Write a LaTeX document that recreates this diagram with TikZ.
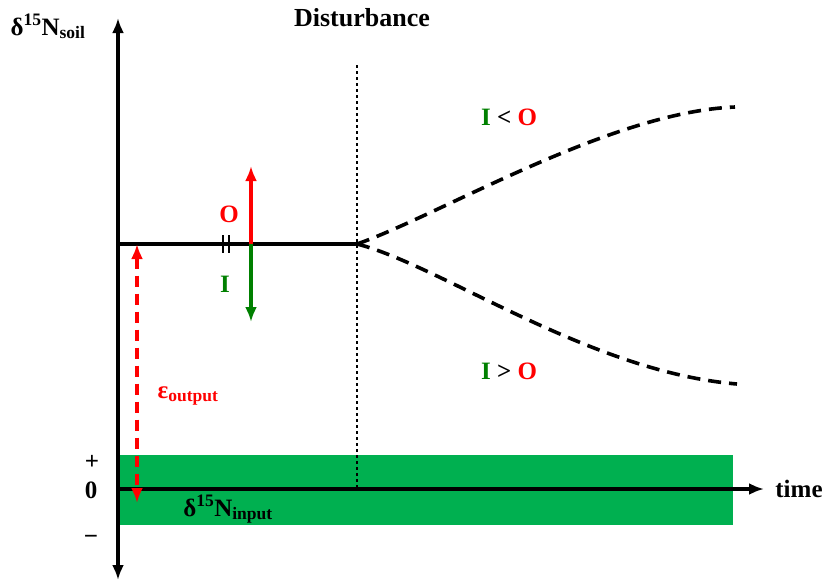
\documentclass[tikz,border=0pt]{standalone}
\usepackage{fontspec}
\setmainfont{Liberation Serif}
\usetikzlibrary{positioning, arrows.meta}

\definecolor{bandgreen}{RGB}{0,176,80}
\definecolor{darkgreen}{RGB}{0,128,0}

\begin{document}
\begin{tikzpicture}[
    x=1pt, y=-1pt,
    font=\fontsize{25}{29}\selectfont\bfseries,
    axis/.style={line width=3.6pt, draw=black, -{Latex[length=15pt, width=12pt]}},
    level/.style={line width=3.2pt, draw=black},
    trend/.style={line width=3.6pt, draw=black, dash pattern=on 13pt off 8pt},
    marker/.style={line width=2.8pt, draw=black, dash pattern=on 3pt off 3pt},
    flux/.style={line width=3.4pt, -{Latex[length=15pt, width=12pt]}},
    gap/.style={line width=3.2pt, draw=red, dash pattern=on 11pt off 7pt,
        {Latex[length=15pt, width=12pt]}-{Latex[length=15pt, width=12pt]}},
    tick/.style={line width=1.8pt, draw=black},
    label/.style={inner sep=0pt, anchor=base},
    input/.style={fill=bandgreen}
]

% ============ Frame ============
\useasboundingbox (0,0) rectangle (823,581);

% ============ Anchor points ============
\coordinate (origin) at (118,489);
\coordinate (ytop) at (118,18);
\coordinate (ybot) at (118,580);
\coordinate (xend) at (764,489);
\coordinate (steady) at (357,244);
\coordinate (flux) at (251,244);
\coordinate (fluxup) at (251,166);
\coordinate (fluxdown) at (251,322);
\coordinate (breakA) at (223,235);
\coordinate (breakB) at (229,235);
\coordinate (dist) at (357,65);
\coordinate (distbase) at (357,489);
\coordinate (upend) at (735,107);
\coordinate (downend) at (737,384);
\coordinate (epstop) at (137,244);
\coordinate (epsbot) at (137,503);

% ============ Input band ============
\fill[input] (118,455) rectangle (733,525);

% ============ Axes ============
\draw[axis] (origin) -- (ytop);
\draw[axis] (origin) -- (ybot);
\draw[axis] (origin) -- (xend);

% ============ Steady state and disturbance ============
\draw[level] (origin |- steady) -- (steady);
\draw[tick] (breakA) -- ++(0,18);
\draw[tick] (breakB) -- ++(0,18);
\draw[marker] (dist) -- (distbase);
\draw[trend] (steady) .. controls (440,215) and (610,112) .. (upend);
\draw[trend] (steady) .. controls (440,265) and (590,372) .. (downend);

% ============ Fluxes ============
\draw[flux, red] (flux) -- (fluxup);
\draw[flux, darkgreen] (flux) -- (fluxdown);
\draw[gap] (epstop) -- (epsbot);

% ============ Labels ============
\node[label] (soillabel) at (48,35) {δ\textsuperscript{15}N\textsubscript{soil}};
\node[label] (disturb) at (362,26) {\fontsize{26}{30}\selectfont Disturbance};
\node[label, text=red] (labO) at (229,222) {O};
\node[label, text=darkgreen] (labI) at (225,292) {I};
\node[label] (ltO) at (509,125) {\textcolor{darkgreen}{I} < \textcolor{red}{O}};
\node[label] (gtO) at (509,379) {\textcolor{darkgreen}{I} > \textcolor{red}{O}};
\node[label, text=red] (epslabel) at (188,398) {ε\textsubscript{output}};
\node[label] (inputlabel) at (228,516) {δ\textsuperscript{15}N\textsubscript{input}};
\node[label] (timelabel) at (799,497) {time};
\node[label] (plus) at (92,469) {+};
\node[label] (zero) at (91,498) {0};
\node[label] (minus) at (91,544) {−};

\end{tikzpicture}
\end{document}
